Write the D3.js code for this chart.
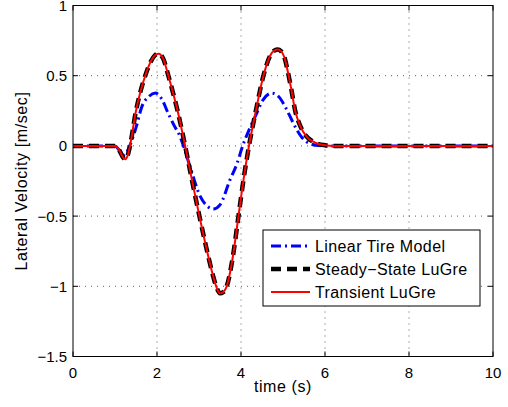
<!DOCTYPE html>
<html>
<head>
<meta charset="utf-8">
<script src="https://cdn.jsdelivr.net/npm/d3@7"></script>
<style>
  body { margin: 0; background: #fff; }
  text { font-family: "Liberation Sans", Arial, sans-serif; }
</style>
</head>
<body>
<svg id="chart" width="508" height="407"></svg>
<script>
// values
var xTicks = [0, 2, 4, 6, 8, 10];
var yTicks = [1, 0.5, 0, -0.5, -1, -1.5];
var seriesNames = ["Linear Tire Model", "Steady\u2212State LuGre", "Transient LuGre"];

var linearT = [0, 1.0, 1.1, 1.2, 1.27, 1.35, 1.5, 1.64, 1.8, 1.96, 2.1, 2.27, 2.4, 2.55, 2.63, 2.8, 3.03, 3.2, 3.34, 3.5, 3.74, 3.9, 4.04, 4.2, 4.34, 4.53, 4.73, 4.9, 5.05, 5.2, 5.33, 5.45, 5.56, 5.7, 5.85, 6.0, 10];
var linearV = [0, 0, -0.03, -0.065, -0.05, 0.0, 0.13, 0.28, 0.35, 0.376, 0.34, 0.23, 0.15, 0.066, 0.0, -0.16, -0.36, -0.43, -0.45, -0.42, -0.24, -0.13, 0.0, 0.12, 0.21, 0.33, 0.376, 0.35, 0.28, 0.19, 0.114, 0.06, 0.03, 0.01, 0.002, 0, 0];

var steadyT = [0, 1.0, 1.1, 1.2, 1.245, 1.3, 1.35, 1.5, 1.6, 1.72, 1.85, 1.95, 2.04, 2.15, 2.27, 2.38, 2.49, 2.67, 2.83, 3.01, 3.17, 3.33, 3.42, 3.5, 3.58, 3.66, 3.8, 3.94, 4.06, 4.19, 4.34, 4.53, 4.69, 4.8, 4.875, 4.95, 5.05, 5.1, 5.2, 5.29, 5.4, 5.48, 5.6, 5.72, 5.85, 6.0, 6.2, 10];
var steadyV = [0, 0, -0.03, -0.085, -0.095, -0.07, -0.01, 0.25, 0.38, 0.5, 0.6, 0.645, 0.657, 0.62, 0.5, 0.38, 0.25, 0.0, -0.24, -0.5, -0.72, -0.92, -1.01, -1.05, -1.04, -1.0, -0.8, -0.5, -0.24, 0.0, 0.23, 0.495, 0.64, 0.68, 0.686, 0.675, 0.614, 0.55, 0.4, 0.25, 0.15, 0.1, 0.055, 0.03, 0.013, 0.005, 0, 0];

var transientT = steadyT.slice();
var transientV = steadyV.slice();

var svg = d3.select("#chart");
var margin = { left: 73, right: 15, top: 5.5, bottom: 50.5 };
var W = 508, H = 407;

var x = d3.scaleLinear().domain([0, 10]).range([margin.left, W - margin.right]);
var y = d3.scaleLinear().domain([-1.5, 1]).range([H - margin.bottom, margin.top]);

//grid
var grid = svg.append("g");
grid.selectAll(".gx").data(xTicks.slice(1, -1)).enter().append("line")
  .attr("x1", d => x(d)).attr("x2", d => x(d))
  .attr("y1", y(1)).attr("y2", y(-1.5))
  .attr("stroke", "#333").attr("stroke-width", 0.8)
  .attr("stroke-dasharray", "1,5");
grid.selectAll(".gy").data(yTicks.slice(1, -1)).enter().append("line")
  .attr("y1", d => y(d)).attr("y2", d => y(d))
  .attr("x1", x(0)).attr("x2", x(10))
  .attr("stroke", "#333").attr("stroke-width", 0.8)
  .attr("stroke-dasharray", "1,5");

//inward ticks
var tickLen = 5;
var ticks = svg.append("g").attr("stroke", "#000").attr("stroke-width", 1);
xTicks.forEach(function(d) {
  ticks.append("line").attr("x1", x(d)).attr("x2", x(d)).attr("y1", y(-1.5)).attr("y2", y(-1.5) - tickLen);
  ticks.append("line").attr("x1", x(d)).attr("x2", x(d)).attr("y1", y(1)).attr("y2", y(1) + tickLen);
});
yTicks.forEach(function(d) {
  ticks.append("line").attr("y1", y(d)).attr("y2", y(d)).attr("x1", x(0)).attr("x2", x(0) + tickLen);
  ticks.append("line").attr("y1", y(d)).attr("y2", y(d)).attr("x1", x(10)).attr("x2", x(10) - tickLen);
});

//tick labels
function fmt(v) { return String(v).replace("-", "\u2212"); }
svg.append("g").selectAll("text").data(xTicks).enter().append("text")
  .attr("x", d => x(d)).attr("y", y(-1.5) + 21)
  .attr("text-anchor", "middle").attr("font-size", 15)
  .text(d => fmt(d));
svg.append("g").selectAll("text").data(yTicks).enter().append("text")
  .attr("x", x(0) - 6).attr("y", d => y(d) + 5.5)
  .attr("text-anchor", "end").attr("font-size", 15)
  .text(d => fmt(d));

//axis labels
svg.append("text").attr("x", (x(0) + x(10)) / 2).attr("y", 392)
  .attr("text-anchor", "middle").attr("font-size", 16).attr("letter-spacing", 0.6)
  .text("time (s)");
svg.append("text")
  .attr("transform", "translate(27," + ((y(1) + y(-1.5)) / 2) + ") rotate(-90)")
  .attr("text-anchor", "middle").attr("font-size", 16).attr("letter-spacing", 0.6)
  .text("Lateral Velocity [m/sec]");

//lines
svg.append("clipPath").attr("id", "clip").append("rect")
  .attr("x", x(0)).attr("y", y(1)).attr("width", x(10) - x(0)).attr("height", y(-1.5) - y(1));

var line = d3.line().x(d => x(d[0])).y(d => y(d[1])).curve(d3.curveMonotoneX);
var styles = [
  { t: linearT, v: linearV, color: "#0000ff", width: 3, dash: "10,4,2,4" },
  { t: steadyT, v: steadyV, color: "#000000", width: 4.5, dash: "10,6" },
  { t: transientT, v: transientV, color: "#ff0000", width: 2, dash: null }
];
var plot = svg.append("g").attr("clip-path", "url(#clip)");
styles.forEach(function(s) {
  plot.append("path")
    .datum(d3.zip(s.t, s.v))
    .attr("d", line)
    .attr("fill", "none")
    .attr("stroke", s.color)
    .attr("stroke-width", s.width)
    .attr("stroke-dasharray", s.dash);
});

//axes box
svg.append("rect").attr("x", x(0)).attr("y", y(1))
  .attr("width", x(10) - x(0)).attr("height", y(-1.5) - y(1))
  .attr("fill", "none").attr("stroke", "#000").attr("stroke-width", 1);

//legend
var lg = svg.append("g").attr("transform", "translate(263,230)");
lg.append("rect").attr("width", 217).attr("height", 76)
  .attr("fill", "#fff").attr("stroke", "#000").attr("stroke-width", 1);
seriesNames.forEach(function(name, i) {
  var yy = 16 + i * 23;
  var s = styles[i];
  lg.append("line").attr("x1", 8).attr("x2", 47).attr("y1", yy).attr("y2", yy)
    .attr("stroke", s.color).attr("stroke-width", s.width).attr("stroke-dasharray", s.dash);
  lg.append("text").attr("x", 52).attr("y", yy + 6).attr("font-size", 16).attr("letter-spacing", 0.4)
    .text(name);
});
</script>
</body>
</html>
